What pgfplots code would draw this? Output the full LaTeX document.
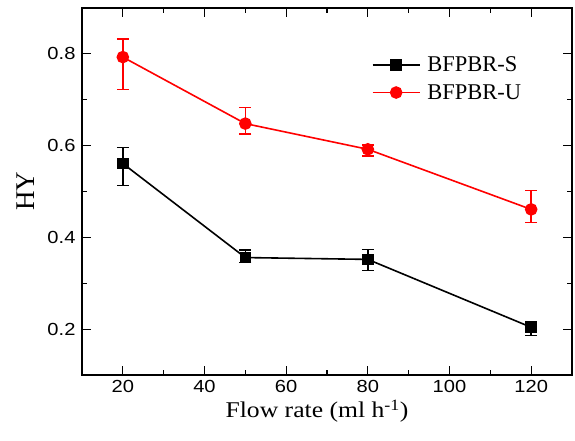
\documentclass[border=0pt]{standalone}
\usepackage{fontspec}
\setmainfont{Liberation Serif}
\newfontfamily\tickfont[FakeStretch=1.15]{Liberation Sans}
\newfontfamily\labelfont[FakeStretch=1.14]{Liberation Serif}
\usepackage{pgfplots}
\pgfplotsset{compat=1.18}

\begin{document}
\begin{tikzpicture}
\begin{axis}[
  at={(0pt,0pt)}, anchor=south west,
  scale only axis,
  width=490pt, height=367pt,
  xmin=10, xmax=130,
  ymin=0.1, ymax=0.9,
  xtick={20,40,60,80,100,120},
  ytick={0.2,0.4,0.6,0.8},
  minor x tick num=1,
  minor y tick num=1,
  major tick length=9pt,
  minor tick length=5pt,
  tick style={line width=1.2pt, black},
  axis line style={line width=1.5pt},
  /pgf/number format/assume math mode=true,
  /pgf/number format/fixed,
  /pgf/number format/precision=1,
  /pgf/number format/fixed zerofill,
  xticklabel={\pgfmathprintnumber[fixed,precision=0,fixed zerofill=false]{\tick}},
  tick label style={font=\tickfont\fontsize{17.5}{17.5}\selectfont},
  xticklabel style={yshift=-2pt},
  yticklabel style={xshift=-3pt},
  xlabel={Flow rate (ml h\textsuperscript{-1})},
  ylabel={HY},
  xlabel style={font=\labelfont\fontsize{22.5}{22.5}\selectfont, yshift=0pt, xshift=-10pt},
  ylabel style={font=\fontsize{27}{27}\selectfont, yshift=6pt},
  legend style={draw=none, fill=none, at={(0.585,0.807)}, anchor=west,
    font=\fontsize{22.5}{22.5}\selectfont, row sep=7pt,
    legend cell align=left},
  legend image code/.code={
    \draw[mark repeat=2, mark phase=2] plot coordinates {(0pt,0pt) (23.5pt,0pt) (47pt,0pt)};
    \path (52pt,0pt);
  },
  error bars/error bar style={line width=1.6pt},
  error bars/error mark options={rotate=90, mark size=6pt, line width=1.6pt},
]
\addplot[black, line width=1.6pt, mark=square*, mark size=5pt,
  error bars/.cd, y dir=both, y explicit]
  coordinates {
  (20,0.561) += (0,0.035) -= (0,0.048)
  (50,0.356) += (0,0.017) -= (0,0.011)
  (80,0.352) += (0,0.022) -= (0,0.024)
  (120,0.204) += (0,0.011) -= (0,0.018)
};
\addplot[red, line width=1.6pt, mark=*, mark size=5.5pt,
  error bars/.cd, y dir=both, y explicit]
  coordinates {
  (20,0.793) += (0,0.039) -= (0,0.071)
  (50,0.648) += (0,0.035) -= (0,0.023)
  (80,0.592) += (0,0.010) -= (0,0.014)
  (120,0.461) += (0,0.041) -= (0,0.029)
};
\legend{BFPBR-S, BFPBR-U}
\end{axis}
\pgfresetboundingbox
\path (-82pt,-66pt) rectangle (493pt,375pt);
\end{tikzpicture}
\end{document}
